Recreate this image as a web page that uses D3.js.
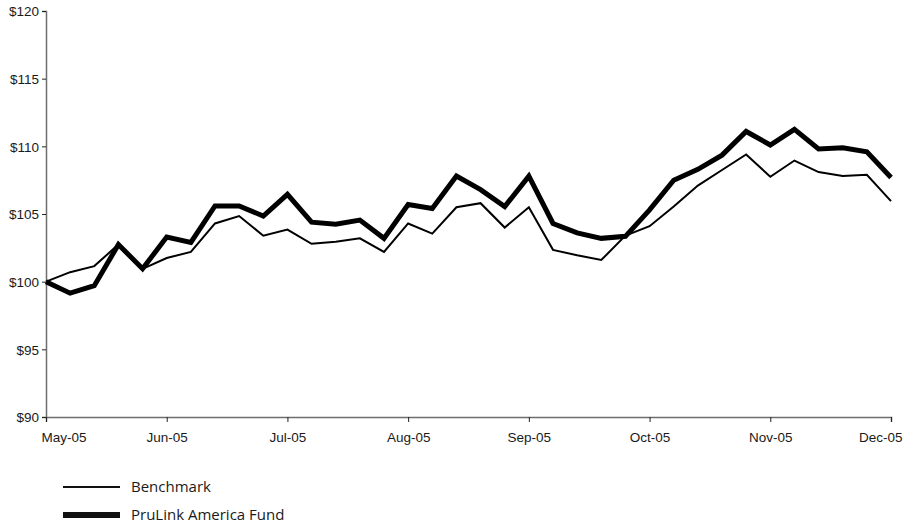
<!DOCTYPE html>
<html>
<head>
<meta charset="utf-8">
<script src="https://cdn.jsdelivr.net/npm/d3@7"></script>
<style>
  html, body { margin: 0; padding: 0; background: #fff; }
  svg { display: block; font-family: "Open Sans", "DejaVu Sans", sans-serif; }
</style>
</head>
<body>
<svg id="chart" width="914" height="526"></svg>
<script>
// Weekly values of $100 invested, May-05 to Dec-05
const monthLabels = ["May-05", "Jun-05", "Jul-05", "Aug-05", "Sep-05", "Oct-05", "Nov-05", "Dec-05"];
const yTicks = [90, 95, 100, 105, 110, 115, 120];

const benchmark = [
  100.0, 100.7, 101.15, 102.75, 100.95, 101.75, 102.2, 104.3, 104.85, 103.4,
  103.85, 102.8, 102.95, 103.2, 102.2, 104.3, 103.55, 105.5, 105.8, 104.0,
  105.5, 102.35, 101.95, 101.6, 103.4, 104.1, 105.55, 107.1, 108.25, 109.4,
  107.75, 108.95, 108.1, 107.8, 107.9, 105.95
];
const fund = [
  100.0, 99.15, 99.7, 102.75, 100.95, 103.3, 102.9, 105.6, 105.6, 104.85,
  106.45, 104.4, 104.25, 104.55, 103.2, 105.7, 105.4, 107.8, 106.8, 105.55,
  107.8, 104.3, 103.6, 103.2, 103.35, 105.3, 107.5, 108.3, 109.35, 111.1,
  110.1, 111.25, 109.8, 109.9, 109.6, 107.7
];

const svg = d3.select("#chart");
const plotLeft = 46, plotRight = 891, plotTop = 11, plotBottom = 417;

const x = d3.scaleLinear().domain([0, benchmark.length - 1]).range([plotLeft, plotRight]);
const y = d3.scaleLinear().domain([90, 120]).range([plotBottom, plotTop]);

// y axis
const yAxis = svg.append("g")
  .attr("transform", `translate(${plotLeft},0)`)
  .call(d3.axisLeft(y).tickValues(yTicks).tickSize(4).tickPadding(3).tickFormat(d => "$" + d));

// x axis: one tick per month (five weekly steps apart)
const monthIdx = monthLabels.map((_, i) => i * 5);
const xAxis = svg.append("g")
  .attr("transform", `translate(0,${plotBottom})`)
  .call(d3.axisBottom(x).tickValues(monthIdx).tickSize(5).tickPadding(10)
    .tickFormat((d, i) => monthLabels[i]));

[yAxis, xAxis].forEach(g => {
  g.select(".domain").attr("stroke", "#6e6e6e").attr("stroke-width", 1.5);
  g.selectAll(".tick line").attr("stroke", "#222").attr("stroke-width", 1);
  g.selectAll(".tick text").attr("fill", "#1a1a1a").style("font-size", "13.5px");
});
yAxis.selectAll(".tick text").attr("dy", "0.35em");

// keep the end month labels inside the plot width
const xLabels = xAxis.selectAll(".tick text");
xLabels.filter((d, i) => i === 0).attr("text-anchor", "start").attr("x", -5);
xLabels.filter((d, i, n) => i === n.length - 1).attr("text-anchor", "end").attr("x", 11);

const line = d3.line().x((d, i) => x(i)).y(d => y(d));

svg.append("path").datum(benchmark)
  .attr("d", line).attr("fill", "none")
  .attr("stroke", "#000").attr("stroke-width", 2).attr("stroke-linejoin", "miter");

svg.append("path").datum(fund)
  .attr("d", line).attr("fill", "none")
  .attr("stroke", "#000").attr("stroke-width", 5).attr("stroke-linejoin", "miter");

// legend
const legend = [
  { name: "Benchmark", w: 2, y: 487 },
  { name: "PruLink America Fund", w: 6, y: 515 }
];
const lg = svg.append("g");
legend.forEach(d => {
  lg.append("line").attr("x1", 63).attr("x2", 120).attr("y1", d.y).attr("y2", d.y)
    .attr("stroke", "#111").attr("stroke-width", d.w);
  lg.append("text").attr("x", 131).attr("y", d.y).attr("dy", "0.35em")
    .attr("fill", "#1a1a1a").style("font-size", "15px").text(d.name);
});
</script>
</body>
</html>
